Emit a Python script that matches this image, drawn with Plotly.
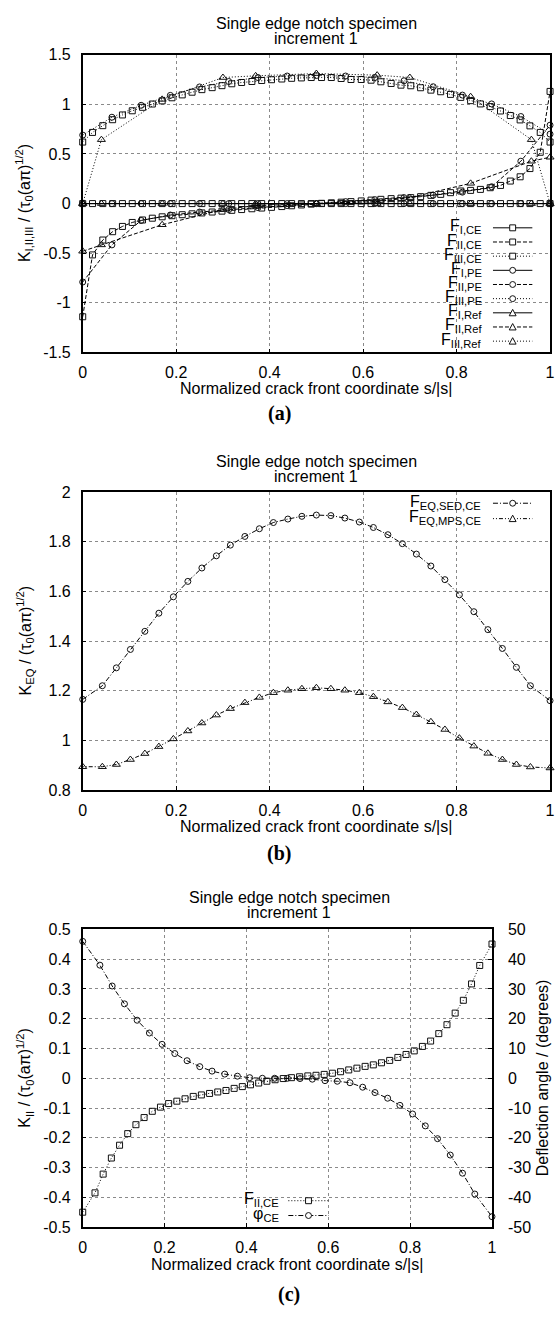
import plotly.graph_objects as go

# ---------------------------------------------------------------- data
x_tick_vals = [0, 0.2, 0.4, 0.6, 0.8, 1]
x_tick_text = ["0", "0.2", "0.4", "0.6", "0.8", "1"]
ya_tick_vals = [-1.5, -1, -0.5, 0, 0.5, 1, 1.5]
ya_tick_text = ["-1.5", "-1", "-0.5", "0", "0.5", "1", "1.5"]
yb_tick_vals = [0.8, 1.0, 1.2, 1.4, 1.6, 1.8, 2.0]
yb_tick_text = ["0.8", "1", "1.2", "1.4", "1.6", "1.8", "2"]
yc_tick_vals = [-0.5, -0.4, -0.3, -0.2, -0.1, 0, 0.1, 0.2, 0.3, 0.4, 0.5]
yc_tick_text = ["-0.5", "-0.4", "-0.3", "-0.2", "-0.1", "0", "0.1", "0.2", "0.3", "0.4", "0.5"]
yc2_tick_vals = [-50, -40, -30, -20, -10, 0, 10, 20, 30, 40, 50]
yc2_tick_text = ["-50", "-40", "-30", "-20", "-10", "0", "10", "20", "30", "40", "50"]

# panel (a) -- crack front coordinates
s_ce = [0.0, 0.021, 0.043, 0.064, 0.085, 0.106, 0.128, 0.149, 0.170, 0.191, 0.213, 0.234,
        0.255, 0.277, 0.298, 0.319, 0.340, 0.362, 0.383, 0.404, 0.426, 0.447, 0.468, 0.489,
        0.511, 0.532, 0.553, 0.574, 0.596, 0.617, 0.638, 0.660, 0.681, 0.702, 0.723, 0.745,
        0.766, 0.787, 0.809, 0.830, 0.851, 0.872, 0.894, 0.915, 0.936, 0.957, 0.979, 1.0]
s_pe = [0.0, 0.0625, 0.125, 0.1875, 0.25, 0.3125, 0.375, 0.4375, 0.5,
        0.5625, 0.625, 0.6875, 0.75, 0.8125, 0.875, 0.9375, 1.0]
s_ref = [0.0, 0.04, 0.17, 0.30, 0.37, 0.50, 0.63, 0.70, 0.83, 0.96, 1.0]

F_I_CE = [0.0, 0.0, 0.0, 0.0, 0.0, 0.0, 0.0, 0.0, 0.0, 0.0, 0.0, 0.0,
          0.0, 0.0, 0.0, 0.0, 0.0, 0.0, 0.0, 0.0, 0.0, 0.0, 0.0, 0.0,
          0.0, 0.0, 0.0, 0.0, 0.0, 0.0, 0.0, 0.0, 0.0, 0.0, 0.0, 0.0,
          0.0, 0.0, 0.0, 0.0, 0.0, 0.0, 0.0, 0.0, 0.0, 0.0, 0.0, 0.0]
F_II_CE = [-1.14, -0.517, -0.367, -0.283, -0.230, -0.190, -0.165, -0.147, -0.133, -0.122,
           -0.112, -0.103, -0.094, -0.085, -0.076, -0.068, -0.060, -0.052, -0.045, -0.038,
           -0.030, -0.022, -0.014, -0.005,
           0.003, 0.008, 0.014, 0.020, 0.027, 0.035, 0.043, 0.050, 0.055, 0.060, 0.070,
           0.083, 0.093, 0.110, 0.127, 0.133, 0.143, 0.160, 0.183, 0.227, 0.270, 0.353,
           0.517, 1.13]
F_III_CE = [0.62, 0.717, 0.785, 0.845, 0.893, 0.935, 0.970, 1.003, 1.035, 1.066, 1.095, 1.122,
            1.148, 1.168, 1.188, 1.207, 1.220, 1.230, 1.240, 1.248, 1.255, 1.262, 1.266, 1.270,
            1.270, 1.270, 1.260, 1.250, 1.250, 1.243, 1.227, 1.210, 1.193, 1.187, 1.167, 1.143,
            1.127, 1.100, 1.070, 1.037, 1.004, 0.977, 0.933, 0.887, 0.843, 0.783, 0.717, 0.62]
F_I_PE = [0.0, 0.0, 0.0, 0.0, 0.0, 0.0, 0.0, 0.0, 0.0, 0.0, 0.0, 0.0, 0.0, 0.0, 0.0, 0.0, 0.0]
F_II_PE = [-0.79, -0.416, -0.17, -0.115, -0.085, -0.06, -0.04, -0.02, 0.0,
           0.02, 0.04, 0.06, 0.085, 0.115, 0.17, 0.427, 0.79]
F_III_PE = [0.69, 0.87, 0.99, 1.09, 1.175, 1.23, 1.27, 1.285, 1.29,
            1.285, 1.27, 1.237, 1.177, 1.093, 1.004, 0.877, 0.70]
F_I_Ref = [0.0, 0.0, 0.0, 0.0, 0.0, 0.0, 0.0, 0.0, 0.0, 0.0, 0.0]
F_II_Ref = [-0.48, -0.416, -0.213, -0.06, -0.02, 0.0, 0.02, 0.06, 0.204, 0.427, 0.467]
F_III_Ref = [0.0, 0.644, 1.05, 1.27, 1.287, 1.31, 1.294, 1.27, 1.077, 0.644, 0.0]

# panels (b) and (c)
s_eq = [0.0, 0.042, 0.072, 0.102, 0.133, 0.163, 0.194, 0.225, 0.255, 0.286, 0.316, 0.347,
        0.378, 0.408, 0.439, 0.469, 0.5, 0.531, 0.561, 0.592, 0.622, 0.653, 0.684, 0.714,
        0.745, 0.775, 0.806, 0.837, 0.867, 0.898, 0.928, 0.958, 1.0]
F_EQ_SED_CE = [1.165, 1.22, 1.292, 1.366, 1.439, 1.512, 1.578, 1.64, 1.694, 1.743, 1.786,
               1.821, 1.852, 1.877, 1.891, 1.902, 1.907, 1.905, 1.895, 1.879, 1.857, 1.828,
               1.792, 1.75, 1.702, 1.647, 1.586, 1.518, 1.446, 1.37, 1.294, 1.22, 1.16]
F_EQ_MPS_CE = [0.894, 0.894, 0.903, 0.923, 0.947, 0.975, 1.006, 1.038, 1.07, 1.102, 1.128,
               1.152, 1.173, 1.192, 1.202, 1.208, 1.212, 1.208, 1.202, 1.192, 1.176, 1.155,
               1.132, 1.104, 1.075, 1.044, 1.009, 0.977, 0.948, 0.923, 0.903, 0.893, 0.889]

s_c = [0.0, 0.03, 0.05, 0.07, 0.09, 0.11, 0.13, 0.15, 0.17, 0.19, 0.21, 0.23, 0.25, 0.27,
       0.29, 0.31, 0.33, 0.35, 0.37, 0.39, 0.41, 0.43, 0.45, 0.47, 0.49, 0.51, 0.53, 0.55,
       0.57, 0.59, 0.61, 0.63, 0.65, 0.67, 0.69, 0.71, 0.73, 0.75, 0.77, 0.79, 0.81, 0.83,
       0.85, 0.87, 0.89, 0.91, 0.93, 0.95, 0.97, 1.0]
F_II_CE_c = [-0.45, -0.385, -0.322, -0.268, -0.225, -0.186, -0.156, -0.132, -0.111, -0.097,
             -0.085, -0.077, -0.069, -0.061, -0.056, -0.051, -0.046, -0.041, -0.034, -0.028,
             -0.022, -0.016, -0.010, -0.005, -0.001,
             0.002, 0.005, 0.008, 0.010, 0.013, 0.017, 0.022, 0.028, 0.034, 0.040, 0.045,
             0.052, 0.060, 0.070, 0.080, 0.092, 0.107, 0.125, 0.150, 0.180, 0.219, 0.262,
             0.317, 0.379, 0.451]
phi_CE = [46.0, 38.0, 31.0, 25.0, 19.5, 15.2, 11.4, 8.3, 5.9, 3.9, 2.4, 1.4, 0.7, 0.2, 0.0,
          0.0, 0.0, -0.1, -0.3, -0.8, -1.0, -1.5, -3.0, -4.8, -6.7, -9.1, -12.0, -16.0,
          -20.3, -25.8, -31.9, -38.9, -46.5]

# ---------------------------------------------------------------- layout helpers
W, H = 558, 1318


def px(x):
    return x / W


def py(y):
    return 1 - y / H


FONT = "Liberation Sans, Arial, Helvetica, sans-serif"
SERIF = "Liberation Serif, Times New Roman, serif"
SOLID = "solid"
DASHED = "4px,2px"
DOTTED = "1px,2px"
DASHDOT = "5px,2px,1px,2px"
DASHDOTDOT = "1px,2px,1px,2px,4px,2px"

fig = go.Figure()


def add_series(x, y, xa, ya, dash, symbol, size=6):
    fig.add_trace(go.Scatter(
        x=x, y=y, xaxis=xa, yaxis=ya, mode="lines+markers",
        line=dict(color="black", width=1, dash=dash),
        marker=dict(symbol=symbol, size=size, color="#111",
                    line=dict(color="#111", width=1)),
        cliponaxis=False, showlegend=False, hoverinfo="skip"))


SQ, CI, TR = "square-open", "circle-open", "triangle-up-open"

# panel (a)
add_series(s_ce, F_I_CE, "x", "y", SOLID, SQ)
add_series(s_ce, F_II_CE, "x", "y", DASHED, SQ)
add_series(s_ce, F_III_CE, "x", "y", DOTTED, SQ)
add_series(s_pe, F_I_PE, "x", "y", SOLID, CI)
add_series(s_pe, F_II_PE, "x", "y", DASHED, CI)
add_series(s_pe, F_III_PE, "x", "y", DOTTED, CI)
add_series(s_ref, F_I_Ref, "x", "y", SOLID, TR, 7)
add_series(s_ref, F_II_Ref, "x", "y", DASHED, TR, 7)
add_series(s_ref, F_III_Ref, "x", "y", DOTTED, TR, 7)
# panel (b)
add_series(s_eq, F_EQ_SED_CE, "x2", "y2", DASHDOT, CI)
add_series(s_eq, F_EQ_MPS_CE, "x2", "y2", DASHDOTDOT, TR, 7)
# panel (c)
add_series(s_c, F_II_CE_c, "x3", "y3", DOTTED, SQ)
add_series(s_eq, phi_CE, "x3", "y4", DASHDOT, CI)


def axis(domain, rng, tv, tt, anchor, standoff=8, **kw):
    d = dict(domain=domain, range=rng, tickvals=tv, ticktext=tt, anchor=anchor,
             showline=True, linecolor="black", linewidth=1.5, mirror=True,
             showgrid=True, gridcolor="#8a8a8a", griddash="dot", gridwidth=1,
             zeroline=False, ticks="inside", ticklen=4, tickcolor="black",
             tickfont=dict(family=FONT, size=16, color="black"),
             ticklabelstandoff=standoff, fixedrange=True)
    d.update(kw)
    return d


xdom_ab = [px(80), px(555)]
xdom_c = [px(80), px(496)]
fig.update_layout(
    width=W, height=H, margin=dict(l=0, r=0, t=0, b=0),
    paper_bgcolor="white", plot_bgcolor="white",
    font=dict(family=FONT, size=16, color="black"),
    xaxis=axis(xdom_ab, [0, 1], x_tick_vals, x_tick_text, "y", 5),
    yaxis=axis([py(349), py(47.3)], [-1.5, 1.5], ya_tick_vals, ya_tick_text, "x", 7),
    xaxis2=axis(xdom_ab, [0, 1], x_tick_vals, x_tick_text, "y2", 5),
    yaxis2=axis([py(792.3), py(490.3)], [0.8, 2.0], yb_tick_vals, yb_tick_text, "x2", 7),
    xaxis3=axis(xdom_c, [0, 1], x_tick_vals, x_tick_text, "y3", 5),
    yaxis3=axis([py(1235), py(933.5)], [-0.5, 0.5], yc_tick_vals, yc_tick_text, "x3", 7),
    yaxis4=axis([py(1235), py(933.5)], [-50, 50], yc2_tick_vals, yc2_tick_text, "x3", 11,
                overlaying="y3", side="right", showgrid=False, mirror=False),
)

ann = []
shapes = []


def text(x, y, t, size=16, angle=0, xanchor="center", family=FONT):
    ann.append(dict(x=px(x), y=py(y), xref="paper", yref="paper", text=t, showarrow=False,
                    xanchor=xanchor, yanchor="middle", textangle=angle,
                    font=dict(family=family, size=size, color="black")))


# titles
for cx, y1 in [(317.5, 15.5), (317.5, 459.5), (290, 901.5)]:
    text(cx, y1, "Single edge notch specimen")
    text(cx, y1 + 15, "increment 1")

# x-axis titles and panel labels
XT = "Normalized crack front coordinate s/|s|"
text(317.5, 385, XT)
text(317.5, 829, XT)
text(288, 1273, XT)
text(280, 411, "<b>(a)</b>", 20, family=SERIF)
text(280, 857, "<b>(b)</b>", 20, family=SERIF)
text(290, 1303, "<b>(c)</b>", 20, family=SERIF)

# y-axis titles
NORM = " / (τ<sub>0</sub>(aπ)<sup>1/2</sup>)"
text(21, 198, "K<sub>I,II,III</sub>" + NORM, angle=-90)
text(21, 641, "K<sub>EQ</sub>" + NORM, angle=-90)
text(21, 1084, "K<sub>II</sub>" + NORM, angle=-90)
text(547, 1084, "Deflection angle / (degrees)", angle=-90)


def legend(entries, x_label, x0, x1, y_first, dy, box):
    bx0, by0, bx1, by1 = box
    shapes.append(dict(type="rect", xref="paper", yref="paper", layer="between",
                       x0=px(bx0), x1=px(bx1), y0=py(by1), y1=py(by0),
                       fillcolor="white", line=dict(width=0)))
    xm = (x0 + x1) / 2
    for i, (lab, dash, sym) in enumerate(entries):
        y = y_first + i * dy
        text(x_label, y - 1, lab, xanchor="right")
        shapes.append(dict(type="line", xref="paper", yref="paper",
                           x0=px(x0), x1=px(x1), y0=py(y), y1=py(y),
                           line=dict(color="black", width=1, dash=dash)))
        r = 3
        if sym == SQ:
            shapes.append(dict(type="rect", xref="paper", yref="paper",
                               x0=px(xm - r), x1=px(xm + r), y0=py(y + r), y1=py(y - r),
                               fillcolor="white", line=dict(color="#111", width=1)))
        elif sym == CI:
            shapes.append(dict(type="circle", xref="paper", yref="paper",
                               x0=px(xm - r), x1=px(xm + r), y0=py(y + r), y1=py(y - r),
                               fillcolor="white", line=dict(color="#111", width=1)))
        else:
            path = "M {:.5f},{:.5f} L {:.5f},{:.5f} L {:.5f},{:.5f} Z".format(
                px(xm - 3.5), py(y + 3), px(xm + 3.5), py(y + 3), px(xm), py(y - 3.5))
            shapes.append(dict(type="path", xref="paper", yref="paper", path=path,
                               fillcolor="white", line=dict(color="#111", width=1)))


legend([("F<sub>I,CE</sub>", SOLID, SQ), ("F<sub>II,CE</sub>", DASHED, SQ),
        ("F<sub>III,CE</sub>", DOTTED, SQ), ("F<sub>I,PE</sub>", SOLID, CI),
        ("F<sub>II,PE</sub>", DASHED, CI), ("F<sub>III,PE</sub>", DOTTED, CI),
        ("F<sub>I,Ref</sub>", SOLID, TR), ("F<sub>II,Ref</sub>", DASHED, TR),
        ("F<sub>III,Ref</sub>", DOTTED, TR)],
       488, 497, 537, 222.7, 14.35, (435, 203, 547, 348))
legend([("F<sub>EQ,SED,CE</sub>", DASHDOT, CI), ("F<sub>EQ,MPS,CE</sub>", DASHDOTDOT, TR)],
       487, 497, 537, 501.7, 15.6, (406, 491, 554, 527))
legend([("F<sub>II,CE</sub>", DOTTED, SQ), ("φ<sub>CE</sub>", DASHDOT, CI)],
       282, 289, 330, 1208.3, 15, (237, 1199, 338, 1234))

fig.update_layout(annotations=ann, shapes=shapes)
# the page body has an 8px default margin; remove it so the figure fills the window
fig.write_html("out.html", config={"displayModeBar": False},
               post_script="document.body.style.margin='0px';")
